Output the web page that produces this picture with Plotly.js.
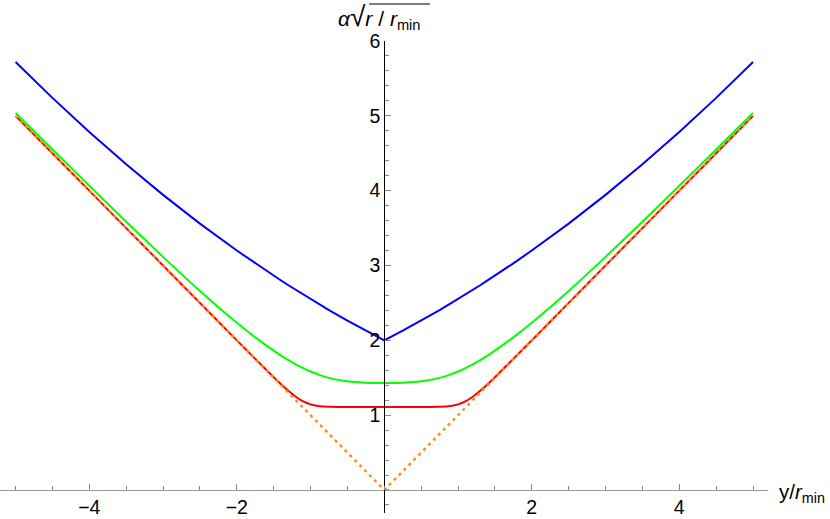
<!DOCTYPE html>
<html>
<head>
<meta charset="utf-8">
<script src="https://cdn.plot.ly/plotly-3.0.1.min.js"></script>
<style>
  html, body { margin: 0; padding: 0; background: #fff; }
  #chart { width: 830px; height: 519px; }
</style>
</head>
<body>
<div id="chart"></div>
<script>
// y / r_min sample points shared by the three solid curves
const xs = [-5, -4.5, -4, -3.5, -3, -2.5, -2, -1.75, -1.5, -1.4, -1.3, -1.2, -1.1, -1, -0.9, -0.75, -0.5, -0.25, 0,
            0.25, 0.5, 0.75, 0.9, 1, 1.1, 1.2, 1.3, 1.4, 1.5, 1.75, 2, 2.5, 3, 3.5, 4, 4.5, 5];

const blueY = [5.72, 5.24, 4.784, 4.352, 3.944, 3.56, 3.2, 3.029, 2.864, 2.8, 2.736, 2.674, 2.613, 2.552, 2.493, 2.405, 2.264, 2.129, 2.0,
               2.129, 2.264, 2.405, 2.493, 2.552, 2.613, 2.674, 2.736, 2.8, 2.864, 3.029, 3.2, 3.56, 3.944, 4.352, 4.784, 5.24, 5.72];

const greenY = [5.04, 4.55, 4.065, 3.585, 3.115, 2.66, 2.235, 2.04, 1.862, 1.796, 1.735, 1.679, 1.628, 1.583, 1.545, 1.498, 1.452, 1.434, 1.43,
                1.434, 1.452, 1.498, 1.545, 1.583, 1.628, 1.679, 1.735, 1.796, 1.862, 2.04, 2.235, 2.66, 3.115, 3.585, 4.065, 4.55, 5.04];

const redY = [5, 4.5, 4, 3.5, 3, 2.5, 2.0, 1.752, 1.507, 1.413, 1.325, 1.246, 1.184, 1.144, 1.123, 1.112, 1.11, 1.11, 1.11,
              1.11, 1.11, 1.112, 1.123, 1.144, 1.184, 1.246, 1.325, 1.413, 1.507, 1.752, 2.0, 2.5, 3, 3.5, 4, 4.5, 5];

// asymptote |y|
const asymX = [-5, 0, 5];
const asymY = [5, 0, 5];

const xTickVals = [-4, -2, 2, 4];
const yTickVals = [1, 2, 3, 4, 5, 6];

const font = "Liberation Sans, Arial, sans-serif";
const tickSize = 19.5;

var data = [
  {x: xs, y: blueY, mode: "lines", line: {color: "#0000ff", width: 2}, name: "blue"},
  {x: xs, y: greenY, mode: "lines", line: {color: "#00ff00", width: 2, shape: "spline", smoothing: 0.6}, name: "green"},
  {x: xs, y: redY, mode: "lines", line: {color: "#ff0000", width: 2, shape: "spline", smoothing: 0.6}, name: "red"},
  {x: asymX, y: asymY, mode: "lines", line: {color: "#ff8a1a", width: 2.5, dash: "3px,4px"}, name: "asymptote"}
];

var layout = {
  width: 830,
  height: 519,
  showlegend: false,
  hovermode: false,
  paper_bgcolor: "#fff",
  plot_bgcolor: "#fff",
  margin: {l: 0, r: 62, t: 41, b: 6},
  font: {family: font, size: tickSize, color: "#000"},
  xaxis: {
    range: [-5.211, 5.203],
    anchor: "free",
    position: 0.04875,
    showgrid: false,
    zeroline: false,
    showline: true,
    linecolor: "#9a9a9a",
    linewidth: 1,
    tickmode: "array",
    tickvals: xTickVals,
    ticks: "inside",
    ticklen: 6,
    tickcolor: "#8a8a8a",
    tickwidth: 1,
    minor: {tickmode: "linear", tick0: 0, dtick: 0.5, ticks: "inside", ticklen: 3.5, tickcolor: "#8a8a8a", tickwidth: 1},
    tickfont: {family: font, size: tickSize, color: "#000"}
  },
  yaxis: {
    range: [-0.3075, 6],
    anchor: "free",
    position: 0.5004,
    showgrid: false,
    zeroline: false,
    showline: true,
    linecolor: "#000",
    linewidth: 1,
    tickmode: "array",
    tickvals: yTickVals,
    ticks: "inside",
    ticklen: 6,
    tickcolor: "#8a8a8a",
    tickwidth: 1,
    minor: {tickmode: "linear", tick0: 0, dtick: 0.2, ticks: "inside", ticklen: 3.5, tickcolor: "#8a8a8a", tickwidth: 1},
    tickfont: {family: font, size: tickSize, color: "#000"}
  },
  annotations: [
    {
      text: "y/<i>r</i><sub>min</sub>",
      xref: "paper", yref: "paper",
      x: 1.012, y: 0.0424,
      xanchor: "left", yanchor: "middle",
      showarrow: false,
      font: {family: font, size: 20.5, color: "#000"}
    },
    {
      text: "<i>α</i><span style=\"font-size:28px\">√</span><i>r</i> / <i>r</i><sub>min</sub>",
      xref: "paper", yref: "paper",
      x: 0.4375, y: 1.05,
      xanchor: "left", yanchor: "middle",
      showarrow: false,
      font: {family: font, size: 21, color: "#000"}
    }
  ],
  shapes: [
    // overline of the square root in the y label
    {type: "line", xref: "paper", yref: "paper", x0: 369 / 768, x1: 430 / 768, y0: (513 - 4) / 472, y1: (513 - 4) / 472,
     line: {color: "#000", width: 1.2}}
  ]
};

Plotly.newPlot("chart", data, layout, {displayModeBar: false, staticPlot: true});
</script>
</body>
</html>
